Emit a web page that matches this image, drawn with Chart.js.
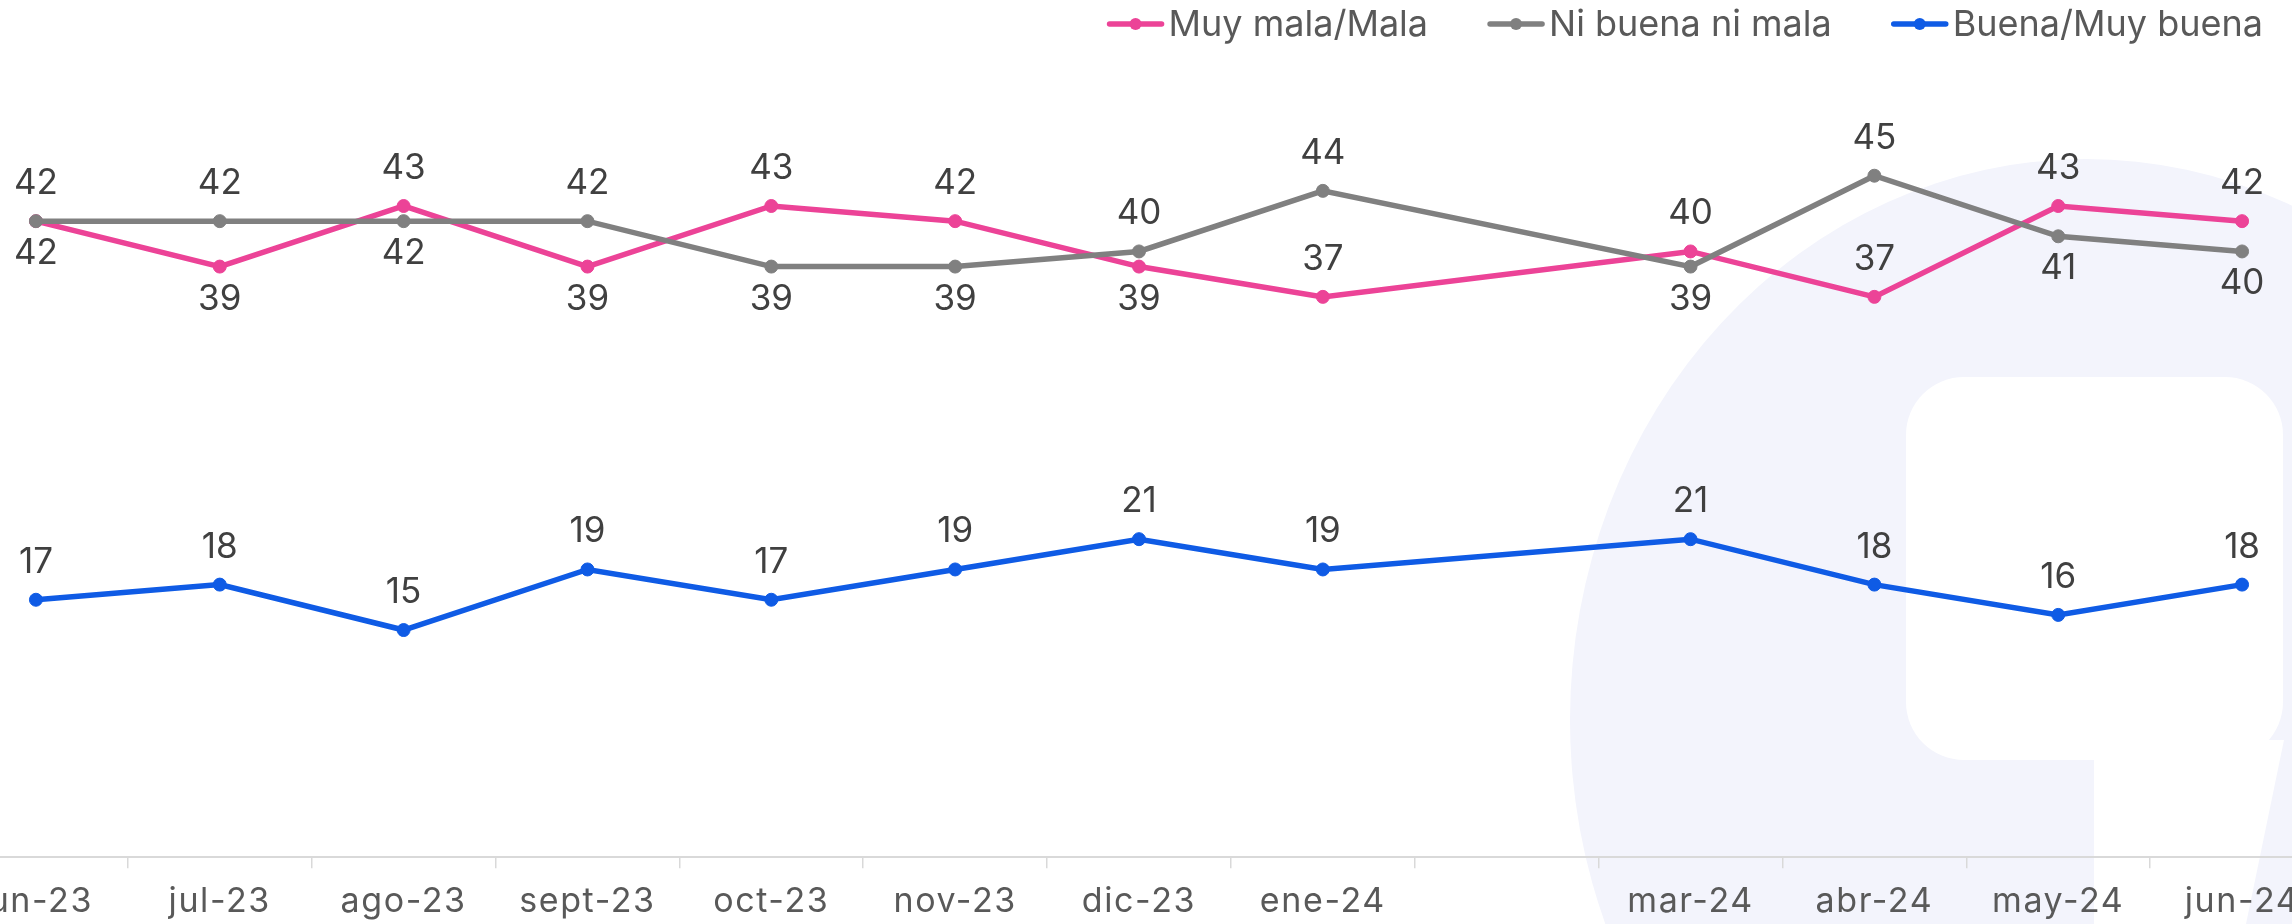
<!DOCTYPE html>
<html lang="es">
<head>
<meta charset="utf-8">
<title>Evaluación</title>
<script src="https://cdn.jsdelivr.net/npm/chart.js@4.4.1/dist/chart.umd.min.js"></script>
<style>
  html, body { margin: 0; padding: 0; background: #fff; }
  body { position: relative; width: 2292px; height: 924px; overflow: hidden; }
  .marca { position: absolute; }
  .circulo { left: 1570px; top: 159px; width: 1032px; height: 1122px; border-radius: 50%; background: #f3f4fc; }
  .hueco { left: 1906px; top: 377px; width: 377px; height: 383px; border-radius: 58px; background: #fff; }
  .cola { left: 2094px; top: 740px; width: 190px; height: 184px; background: #fff;
          clip-path: polygon(0 0, 100% 0, 80% 100%, 0 100%); }
  #caja { position: absolute; left: -56px; top: 0; width: 2390px; height: 935px; }
</style>
</head>
<body>
<div class="marca circulo"></div>
<div class="marca hueco"></div>
<div class="marca cola"></div>
<div id="caja"><canvas id="grafico"></canvas></div>

<script>
"use strict";

// ---- datos (feb-24 sin medición) ----
const meses = ["jun-23", "jul-23", "ago-23", "sept-23", "oct-23", "nov-23", "dic-23",
               "ene-24", "", "mar-24", "abr-24", "may-24", "jun-24"];
const muyMalaMala   = [42, 39, 43, 39, 43, 42, 39, 37, null, 40, 37, 43, 42];
const niBuenaNiMala = [42, 42, 42, 42, 39, 39, 40, 44, null, 39, 45, 41, 40];
const buenaMuyBuena = [17, 18, 15, 19, 17, 19, 21, 19, null, 21, 18, 16, 18];

// posición de cada etiqueta (arriba / abajo del punto)
const A = "arriba", B = "abajo";
const etqMala  = [B, B, A, B, A, A, B, A, null, A, A, A, A];
const etqNi    = [A, A, B, A, B, B, A, A, null, B, A, B, B];
const etqBuena = [A, A, A, A, A, A, A, A, null, A, A, A, A];

const ROSA = "#ec4397", GRIS = "#808080", AZUL = "#0f5be5";
const FUENTE = "Inter, 'DejaVu Sans', sans-serif";

Chart.defaults.font.family = FUENTE;
Chart.defaults.color = "#595959";

// un poco de espaciado en los textos del eje, como en el original
const espaciado = {
  id: "espaciado",
  beforeDraw(chart) { chart.ctx.letterSpacing = "1.6px"; },
  afterDraw(chart) { chart.ctx.letterSpacing = "0px"; }
};

// etiquetas de valor sobre / bajo cada punto
const etiquetas = {
  id: "etiquetas",
  afterDatasetsDraw(chart) {
    const ctx = chart.ctx;
    ctx.save();
    ctx.letterSpacing = "0px";
    ctx.font = "35px " + FUENTE;
    ctx.fillStyle = "#404040";
    ctx.textAlign = "center";
    ctx.textBaseline = "alphabetic";
    chart.data.datasets.forEach((ds, i) => {
      const meta = chart.getDatasetMeta(i);
      meta.data.forEach((pt, j) => {
        const v = ds.data[j];
        if (v == null) return;
        const y = ds.posEtq[j] === "abajo" ? pt.y + 43 : pt.y - 27;
        ctx.fillText(String(v), pt.x, y);
      });
    });
    ctx.restore();
  }
};

// leyenda arriba a la derecha (línea con punto)
const leyenda = {
  id: "leyenda",
  afterDraw(chart) {
    const ctx = chart.ctx;
    const finTexto = 2319, yc = 24, largo = 58, hueco = 4, sep = 59;
    ctx.save();
    ctx.letterSpacing = "0px";
    ctx.font = "36px " + FUENTE;
    const items = chart.data.datasets.map(ds => ({ t: ds.label, c: ds.borderColor, w: ctx.measureText(ds.label).width }));
    const total = items.reduce((s, it) => s + largo + hueco + it.w, 0) + sep * (items.length - 1);
    let x = finTexto - total;
    items.forEach(it => {
      ctx.strokeStyle = it.c;
      ctx.lineWidth = 5.5;
      ctx.lineCap = "round";
      ctx.beginPath();
      ctx.moveTo(x + 3, yc);
      ctx.lineTo(x + largo - 3, yc);
      ctx.stroke();
      ctx.fillStyle = it.c;
      ctx.beginPath();
      ctx.arc(x + largo / 2, yc, 6, 0, Math.PI * 2);
      ctx.fill();
      ctx.fillStyle = "#595959";
      ctx.textAlign = "left";
      ctx.textBaseline = "middle";
      ctx.fillText(it.t, x + largo + hueco, yc + 1);
      x += largo + hueco + it.w + sep;
    });
    ctx.restore();
  }
};

function serie(nombre, datos, color, pos, orden) {
  return {
    label: nombre,
    data: datos,
    borderColor: color,
    backgroundColor: color,
    pointBackgroundColor: color,
    pointBorderColor: color,
    borderWidth: 5.5,
    pointRadius: 6.5,
    pointBorderWidth: 1,
    pointHoverRadius: 6.5,
    spanGaps: true,
    tension: 0,
    order: orden,
    posEtq: pos
  };
}

new Chart(document.getElementById("grafico"), {
  type: "line",
  data: {
    labels: meses,
    datasets: [
      serie("Muy mala/Mala", muyMalaMala, ROSA, etqMala, 3),
      serie("Ni buena ni mala", niBuenaNiMala, GRIS, etqNi, 2),
      serie("Buena/Muy buena", buenaMuyBuena, AZUL, etqBuena, 1)
    ]
  },
  options: {
    responsive: true,
    maintainAspectRatio: false,
    animation: false,
    layout: { padding: { top: 100, bottom: 0, left: 0, right: 0 }, autoPadding: false },
    plugins: {
      legend: { display: false },
      tooltip: { enabled: false }
    },
    scales: {
      x: {
        offset: true,
        grid: { display: true, offset: true, drawOnChartArea: false, drawTicks: true, tickLength: 11, color: "#d9d9d9", lineWidth: 1.5 },
        border: { display: true, color: "#d9d9d9", width: 2 },
        ticks: { font: { size: 34 }, color: "#595959", padding: 13, autoSkip: false, maxRotation: 0 }
      },
      y: {
        display: false,
        min: 0,
        max: 50
      }
    }
  },
  plugins: [espaciado, etiquetas, leyenda]
});
</script>
</body>
</html>
